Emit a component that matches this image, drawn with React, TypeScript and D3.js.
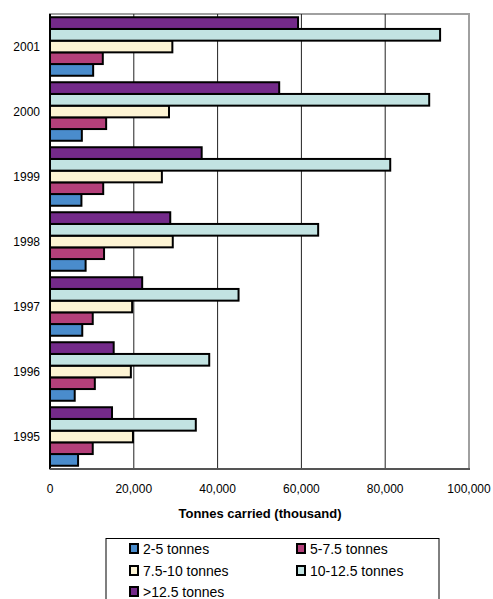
import React, { useEffect, useRef } from 'react';
import * as d3 from 'd3';

// years, top to bottom as drawn
const years = ['2001', '2000', '1999', '1998', '1997', '1996', '1995'];

// series, in legend order
const seriesNames = ['2-5 tonnes', '5-7.5 tonnes', '7.5-10 tonnes', '10-12.5 tonnes', '>12.5 tonnes'];
const seriesColors = ['#4a8ccc', '#b4407a', '#fdf4d4', '#c2e3e2', '#742a8a'];

// values per year (thousand tonnes), same order as years
const t2to5 = [10300, 7600, 7500, 8500, 7700, 5900, 6700];
const t5to75 = [12600, 13400, 12700, 12900, 10200, 10700, 10200];
const t75to10 = [29200, 28400, 26700, 29300, 19600, 19300, 19800];
const t10to125 = [93100, 90500, 81200, 64000, 45000, 38000, 34800];
const tOver125 = [59200, 54700, 36200, 28700, 22000, 15200, 14800];

const xTicks = [0, 20000, 40000, 60000, 80000, 100000];

const App: React.FC = () => {
  const svgRef = useRef<SVGSVGElement>(null);

  useEffect(() => {
    if (!svgRef.current) return;
    const svg = d3.select(svgRef.current);
    svg.selectAll('*').remove();

    const font = 'Liberation Sans, Arial, sans-serif';
    const left = 50, right = 469, top = 14, bottom = 469;
    const values = [t2to5, t5to75, t75to10, t10to125, tOver125];

    const x = d3.scaleLinear().domain([0, 100000]).range([left, right]);
    const y = d3.scaleBand().domain(years).range([top, bottom]).paddingInner(0.1).paddingOuter(0.05);
    // top bar is the last series
    const inner = d3
      .scaleBand<number>()
      .domain([4, 3, 2, 1, 0])
      .range([0, y.bandwidth()]);

    // frame
    svg.append('rect')
      .attr('x', left).attr('y', top)
      .attr('width', right - left).attr('height', bottom - top)
      .attr('fill', 'white').attr('stroke', '#a0a0a0').attr('stroke-width', 2);

    // grid
    svg.append('g')
      .selectAll('line')
      .data(xTicks.slice(1, -1))
      .join('line')
      .attr('x1', d => x(d)).attr('x2', d => x(d))
      .attr('y1', top).attr('y2', bottom)
      .attr('stroke', '#222').attr('stroke-width', 1);

    // bars
    values.forEach((vals, s) => {
      svg.append('g')
        .selectAll('rect')
        .data(years)
        .join('rect')
        .attr('x', x(0))
        .attr('y', (d) => (y(d) as number) + (inner(s) as number))
        .attr('width', (d, i) => x(vals[i]) - x(0))
        .attr('height', inner.bandwidth())
        .attr('fill', seriesColors[s])
        .attr('stroke', '#000')
        .attr('stroke-width', 2);
    });

    // axes lines
    svg.append('line')
      .attr('x1', left).attr('x2', left).attr('y1', top).attr('y2', bottom)
      .attr('stroke', '#000').attr('stroke-width', 2);
    svg.append('line')
      .attr('x1', left).attr('x2', right + 1).attr('y1', bottom).attr('y2', bottom)
      .attr('stroke', '#555').attr('stroke-width', 2);

    // y labels
    svg.append('g')
      .selectAll('text')
      .data(years)
      .join('text')
      .attr('x', 40)
      .attr('y', d => (y(d) as number) + y.bandwidth() / 2 + 4)
      .attr('text-anchor', 'end')
      .attr('font-family', font)
      .attr('font-size', 12)
      .text(d => d);

    // x labels
    svg.append('g')
      .selectAll('text')
      .data(xTicks)
      .join('text')
      .attr('x', d => x(d))
      .attr('y', 493)
      .attr('text-anchor', 'middle')
      .attr('font-family', font)
      .attr('font-size', 12)
      .text(d => d3.format(',')(d));

    svg.append('text')
      .attr('x', 260).attr('y', 518)
      .attr('text-anchor', 'middle')
      .attr('font-family', font)
      .attr('font-size', 13)
      .attr('font-weight', 'bold')
      .text('Tonnes carried (thousand)');

    // legend
    const legend = svg.append('g');
    legend.append('rect')
      .attr('x', 106).attr('y', 538.5)
      .attr('width', 333).attr('height', 80)
      .attr('fill', 'white').attr('stroke', '#000').attr('stroke-width', 1);

    const colX = [130, 297];
    const rowY = [549, 571, 592];
    seriesNames.forEach((name, i) => {
      const lx = colX[i % 2];
      const ly = rowY[Math.floor(i / 2)];
      legend.append('rect')
        .attr('x', lx).attr('y', ly - 5)
        .attr('width', 8).attr('height', 9)
        .attr('fill', seriesColors[i]).attr('stroke', '#000').attr('stroke-width', 2);
      legend.append('text')
        .attr('x', lx + 13).attr('y', ly + 5)
        .attr('font-family', font)
        .attr('font-size', 14)
        .text(name);
    });
  }, []);

  return (
    <svg
      ref={svgRef}
      width={493}
      height={599}
      style={{ position: 'absolute', left: 0, top: 0, background: 'white' }}
    />
  );
};

export default App;
